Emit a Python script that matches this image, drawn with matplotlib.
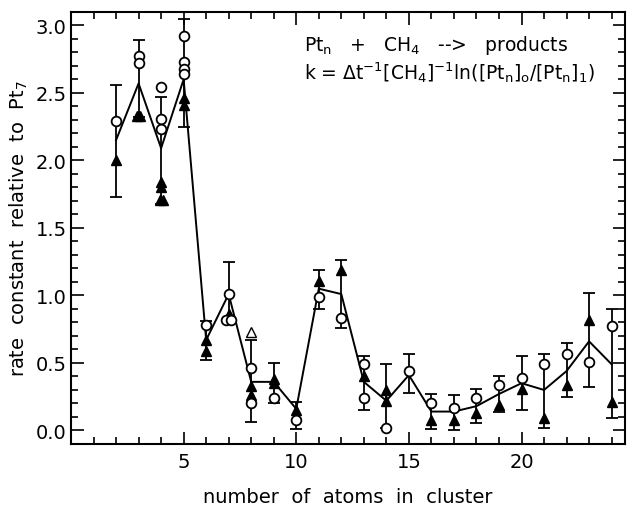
import matplotlib.pyplot as plt
from matplotlib.ticker import MultipleLocator

# cluster size and the solid line through the data
n = [2, 3, 4, 5, 6, 7, 8, 9, 10, 11, 12, 13, 14, 15, 16, 17, 18, 19, 20, 21, 22, 23, 24]
k_line = [2.15, 2.57, 2.09, 2.60, 0.67, 1.01, 0.36, 0.36, 0.16, 1.05, 1.01, 0.36, 0.22,
          0.41, 0.14, 0.14, 0.18, 0.27, 0.35, 0.30, 0.44, 0.66, 0.49]
err_top = [2.56, 2.89, 2.47, 3.05, 0.81, 1.25, 0.67, 0.50, 0.21, 1.19, 1.26, 0.55, 0.49,
           0.57, 0.27, 0.26, 0.31, 0.40, 0.55, 0.57, 0.65, 1.02, 0.90]
err_bot = [1.73, 2.32, 1.68, 2.25, 0.52, 0.82, 0.06, 0.20, 0.01, 0.90, 0.76, 0.15, 0.02,
           0.28, 0.01, 0.00, 0.055, 0.14, 0.15, 0.02, 0.25, 0.32, 0.09]

# open circles
circ_n = [2, 3, 3, 4, 4, 5, 5, 5, 5, 6, 7, 6.88, 7.12, 8, 8, 9, 10, 11, 12, 13, 13, 14,
          15, 16, 17, 18, 19, 20, 21, 22, 23, 24]
circ_k = [2.29, 2.77, 2.72, 2.31, 2.23, 2.92, 2.73, 2.68, 2.64, 0.78, 1.01, 0.82, 0.82,
          0.46, 0.20, 0.24, 0.075, 0.99, 0.83, 0.49, 0.24, 0.02, 0.44, 0.20, 0.17, 0.24,
          0.34, 0.39, 0.49, 0.57, 0.51, 0.77]

# filled triangles
tri_n = [2, 2.93, 3.07, 4, 4, 3.93, 4.07, 5, 5, 6, 6, 7, 7, 8, 8, 9, 9, 10, 11, 12, 13,
         14, 14, 16, 17, 18, 19, 20, 21, 22, 23, 24]
tri_k = [2.00, 2.33, 2.33, 1.84, 1.80, 1.71, 1.71, 2.46, 2.41, 0.67, 0.59, 0.86, 0.84,
         0.33, 0.26, 0.38, 0.35, 0.15, 1.11, 1.19, 0.40, 0.30, 0.22, 0.075, 0.075, 0.13,
         0.19, 0.31, 0.09, 0.34, 0.82, 0.21]

# odd single points
open_circ_n, open_circ_k = [4], [2.54]
open_tri_n, open_tri_k = [8], [0.73]

fig = plt.figure(figsize=(6.34, 5.06), dpi=100)
ax = fig.add_axes([0.112, 0.1206, 0.874, 0.854])

lo = [c - b for c, b in zip(k_line, err_bot)]
hi = [t - c for c, t in zip(k_line, err_top)]
ax.errorbar(n, k_line, yerr=[lo, hi], fmt='none', ecolor='black', elinewidth=1.3,
            capsize=4.5, capthick=1.3, zorder=2)
ax.plot(n, k_line, color='black', lw=1.4, zorder=3)
ax.plot(tri_n, tri_k, '^', color='black', ms=7, zorder=4)
ax.plot(circ_n, circ_k, 'o', mfc='white', mec='black', mew=1.3, ms=7, zorder=5)
ax.plot(open_circ_n, open_circ_k, 'o', mfc='white', mec='black', mew=1.3, ms=7)
ax.plot(open_tri_n, open_tri_k, '^', mfc='white', mec='black', mew=1.0, ms=7)

ax.set_xlim(0, 24.6)
ax.set_ylim(-0.1, 3.1)
ax.xaxis.set_major_locator(MultipleLocator(5))
ax.xaxis.set_minor_locator(MultipleLocator(1))
ax.yaxis.set_major_locator(MultipleLocator(0.5))
ax.yaxis.set_minor_locator(MultipleLocator(0.1))
ax.set_xticks([5, 10, 15, 20])
ax.yaxis.set_major_formatter(plt.FormatStrFormatter('%.1f'))
ax.tick_params(which='both', direction='in', top=True, right=True, width=1.2,
               labelsize=14)
ax.tick_params(axis='y', pad=3)
ax.tick_params(axis='x', pad=6)
ax.tick_params(which='major', length=9)
ax.tick_params(which='minor', length=5)
for s in ax.spines.values():
    s.set_linewidth(1.5)

ax.set_xlabel('number  of  atoms  in  cluster', fontsize=14, labelpad=11)
ax.set_ylabel(r'rate  constant  relative  to  Pt$_\mathrm{7}$', fontsize=14, labelpad=4)

ax.text(0.42, 0.912, r'Pt$_\mathrm{n}$   +   CH$_\mathrm{4}$   -->   products',
        transform=ax.transAxes, fontsize=13.5)
ax.text(0.42, 0.845,
        r'k = $\mathrm{\Delta}$t$^{-1}$[CH$_\mathrm{4}$]$^{-1}$ln([Pt$_\mathrm{n}$]$_\mathrm{o}$/[Pt$_\mathrm{n}$]$_\mathrm{1}$)',
        transform=ax.transAxes, fontsize=13.5)

fig.savefig('out.png', dpi=100)
